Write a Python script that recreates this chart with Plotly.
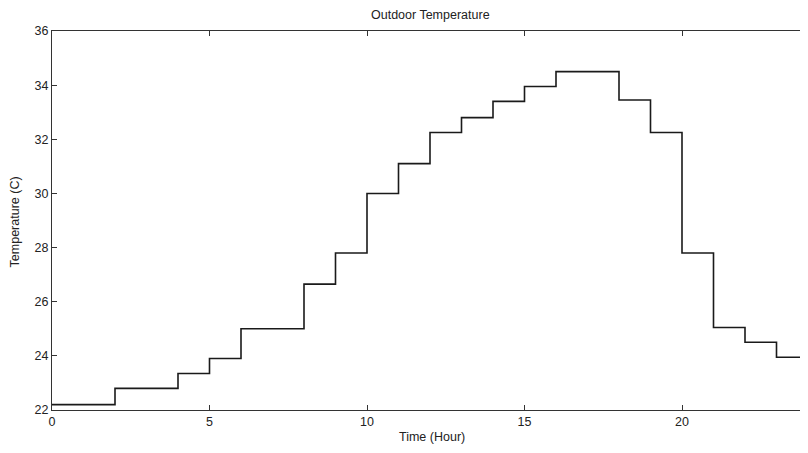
import plotly.graph_objects as go

hours = list(range(0, 25))
temps = [22.2, 22.2, 22.8, 22.8, 23.35, 23.9, 25.0, 25.0, 26.65, 27.8,
         30.0, 31.1, 32.25, 32.8, 33.4, 33.95, 34.5, 34.5, 33.45, 32.25,
         27.8, 25.05, 24.5, 23.95, 23.95]
x_ticks = [0, 5, 10, 15, 20]
y_ticks = [22, 24, 26, 28, 30, 32, 34, 36]

fig = go.Figure()
fig.add_trace(go.Scatter(x=hours, y=temps, mode="lines", line_shape="hv",
                         line=dict(color="#1a1a1a", width=1.6), showlegend=False))

fam = "Liberation Sans, Arial, sans-serif"
font = dict(family=fam, size=12.5, color="#222")
axis_common = dict(showline=True, linecolor="#333", linewidth=1, mirror="ticks",
                   ticks="inside", ticklen=5, tickcolor="#333", showgrid=False,
                   zeroline=False, tickfont=font, automargin=False)
# page body has an 8px default margin, so the figure is sized/offset for it
fig.update_layout(
    width=800, height=437,
    margin=dict(l=44, r=0, t=23, b=35),
    paper_bgcolor="white", plot_bgcolor="white",
    font=font,
    xaxis=dict(range=[0, 24], tickvals=x_ticks, ticktext=[str(v) for v in x_ticks],
               **axis_common),
    yaxis=dict(range=[22, 36], tickvals=y_ticks, ticktext=[str(v) for v in y_ticks],
               **axis_common),
    annotations=[
        dict(text="Outdoor Temperature", xref="paper", yref="paper", x=0.5, y=1,
             xanchor="center", yanchor="bottom", yshift=7, showarrow=False,
             font=dict(family=fam, size=12.5, color="#222")),
        dict(text="Time (Hour)", xref="paper", yref="paper", x=0.502, y=0,
             xanchor="center", yanchor="middle", yshift=-27, showarrow=False,
             font=font),
        dict(text="Temperature (C)", xref="paper", yref="paper", x=0, y=0.495,
             xanchor="center", yanchor="middle", xshift=-37, textangle=-90,
             showarrow=False, font=font),
    ],
)
fig.write_html("out.html")
